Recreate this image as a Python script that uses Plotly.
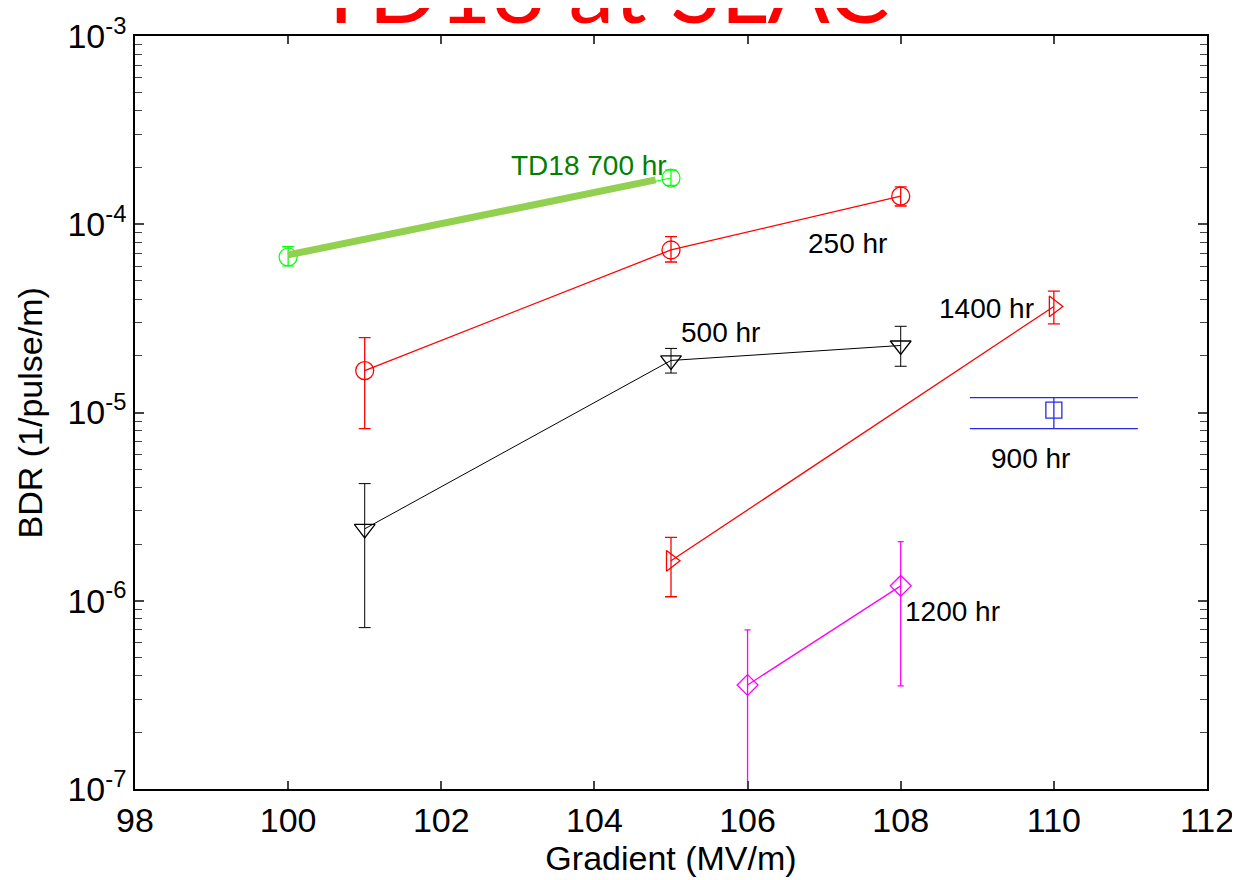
import plotly.graph_objects as go

# ---------------- data ----------------
# TD18 700 hr (green circles)
g_x = [100, 105]
g_y = [6.7e-5, 1.76e-4]
g_hi = [7.6e-5, 1.94e-4]
g_lo = [6.0e-5, 1.61e-4]
# thick fit line for 700 hr
gfit_x = [100, 104.8]
gfit_y = [6.87e-5, 1.72e-4]

# 250 hr (red circles)
r_x = [101, 105, 108]
r_y = [1.67e-5, 7.3e-5, 1.41e-4]
r_hi = [2.5e-5, 8.6e-5, 1.58e-4]
r_lo = [8.2e-6, 6.3e-5, 1.25e-4]

# 500 hr (black down triangles)
k_x = [101, 105, 108]
k_y = [2.41e-6, 1.89e-5, 2.27e-5]
k_hi = [4.19e-6, 2.19e-5, 2.87e-5]
k_lo = [7.2e-7, 1.62e-5, 1.76e-5]

# 1400 hr (red right triangles)
t_x = [105, 110]
t_y = [1.63e-6, 3.66e-5]
t_hi = [2.17e-6, 4.41e-5]
t_lo = [1.05e-6, 2.96e-5]

# 900 hr (blue square)
b_x = [110]
b_y = [1.03e-5]
b_hi = [1.2e-5]
b_lo = [8.2e-6]

# 1200 hr (magenta diamonds)
m_x = [106, 108]
m_y = [3.57e-7, 1.2e-6]
m_hi = [7.0e-7, 2.06e-6]
m_lo = [5.0e-8, 3.53e-7]

# labels: text, x, log10(y)
lab_text = ["TD18 700 hr", "250 hr", "500 hr", "1400 hr", "900 hr", "1200 hr"]
lab_x = [103.93, 107.30, 105.65, 109.12, 109.70, 108.68]
lab_logy = [-3.69, -4.10, -4.576, -4.445, -5.242, -6.058]
lab_color = ["#008000", "black", "black", "black", "black", "black"]

x_ticks = [98, 100, 102, 104, 106, 108, 110, 112]
y_ticks = [1e-7, 1e-6, 1e-5, 1e-4, 1e-3]
y_ticktext = ["10<sup>-7</sup>", "10<sup>-6</sup>", "10<sup>-5</sup>",
              "10<sup>-4</sup>", "10<sup>-3</sup>"]

FONT = "Liberation Sans, Arial, sans-serif"


def err(y, hi, lo):
    return dict(type="data", symmetric=False,
                array=[h - v for h, v in zip(hi, y)],
                arrayminus=[v - l for v, l in zip(y, lo)])


fig = go.Figure()

# thin line + markers for 700 hr
e = err(g_y, g_hi, g_lo)
e.update(color="#00ff00", thickness=1.2, width=6)
fig.add_trace(go.Scatter(x=g_x, y=g_y, mode="lines+markers",
                         line=dict(color="#00ff00", width=1),
                         marker=dict(symbol="circle-open", size=18,
                                     color="#00ff00", line=dict(width=1.2)),
                         error_y=e, showlegend=False))
fig.add_trace(go.Scatter(x=gfit_x, y=gfit_y, mode="lines",
                         line=dict(color="#92D050", width=7),
                         showlegend=False))

series = [
    (r_x, r_y, r_hi, r_lo, "red", "circle-open", 18, 1.3, 6),
    (k_x, k_y, k_hi, k_lo, "black", "triangle-down-open", 18, 1.0, 6),
    (t_x, t_y, t_hi, t_lo, "red", "triangle-right-open", 18, 1.3, 6),
    (b_x, b_y, b_hi, b_lo, "#2a2ae6", "square-open", 16, 1.3, 84),
    (m_x, m_y, m_hi, m_lo, "magenta", "diamond-open", 16, 1.3, 3),
]
for xs, ys, hi, lo, col, sym, sz, lw, cw in series:
    e = err(ys, hi, lo)
    e.update(color=col, thickness=lw, width=cw)
    fig.add_trace(go.Scatter(x=xs, y=ys, mode="lines+markers",
                             line=dict(color=col, width=lw),
                             marker=dict(symbol=sym, size=sz, color=col,
                                         line=dict(width=1.3, color=col)),
                             error_y=e, showlegend=False))

for txt, lx, ly, c in zip(lab_text, lab_x, lab_logy, lab_color):
    fig.add_annotation(x=lx, y=ly, xref="x", yref="y", text=txt,
                       showarrow=False, font=dict(family=FONT, size=28, color=c))

# title (partially cut at the top)
fig.add_annotation(x=0.435, y=1, xref="paper", yref="paper", text="TD18 at SLAC",
                   showarrow=False, xanchor="center", yanchor="bottom", yshift=-9,
                   font=dict(family="Lato, Noto Sans, sans-serif", size=92, color="red"))

# y-axis title as rotated annotation
fig.add_annotation(x=-0.098, y=0.5, xref="paper", yref="paper", text="BDR (1/pulse/m)",
                   showarrow=False, textangle=-90, xanchor="center", yanchor="middle",
                   font=dict(family=FONT, size=34, color="black"))

fig.update_layout(
    width=1240, height=880,
    margin=dict(l=127, r=41, t=28, b=99),
    plot_bgcolor="white", paper_bgcolor="white",
    font=dict(family=FONT, size=30, color="black"),
    xaxis=dict(range=[98, 112], tickvals=x_ticks, ticks="inside", ticklen=8,
               tickwidth=1.5, showline=True, linecolor="black", linewidth=1.5,
               mirror="allticks", showgrid=False, zeroline=False, automargin=False,
               tickfont=dict(size=34),
               title=dict(text="Gradient (MV/m)", font=dict(size=34), standoff=6)),
    yaxis=dict(type="log", range=[-7, -3], tickvals=y_ticks, ticktext=y_ticktext,
               ticks="inside", ticklen=9, tickwidth=1.5, showline=True,
               linecolor="black", linewidth=1.5, mirror="allticks",
               showgrid=False, zeroline=False, automargin=False,
               tickfont=dict(size=34),
               minor=dict(ticks="inside", ticklen=7, tickwidth=1.2,
                          dtick="D1", showgrid=False)),
)

fig.write_html("out.html")
